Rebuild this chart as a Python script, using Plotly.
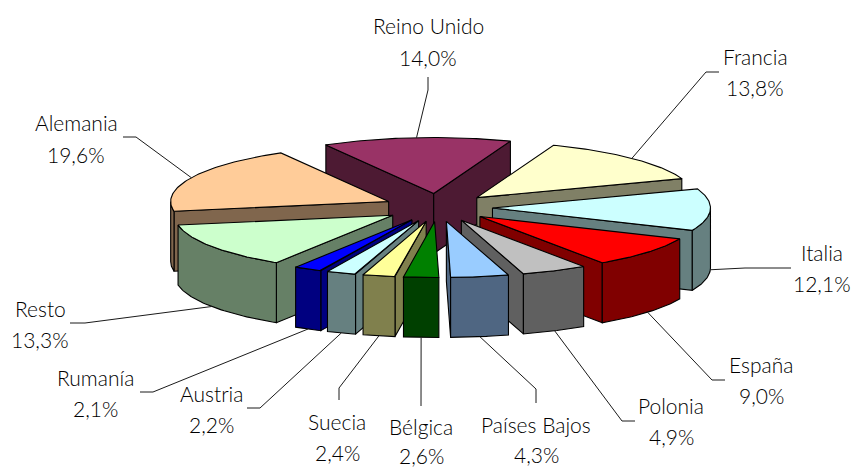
import numpy as np
import plotly.graph_objects as go

# Data, clockwise from the first slice
categories = ["Francia", "Italia", "España", "Polonia", "Países Bajos", "Bélgica",
              "Suecia", "Austria", "Rumanía", "Resto", "Alemania", "Reino Unido"]
shares = [13.8, 12.1, 9.0, 4.9, 4.3, 2.6, 2.4, 2.2, 2.1, 13.3, 19.6, 14.0]
pct_labels = ["13,8%", "12,1%", "9,0%", "4,9%", "4,3%", "2,6%",
              "2,4%", "2,2%", "2,1%", "13,3%", "19,6%", "14,0%"]

# Styles
top_colors = ["#FFFFCC", "#CCFFFF", "#FF0000", "#C0C0C0", "#99CCFF", "#008000",
              "#FFFF99", "#CCFFFF", "#0000FF", "#CCFFCC", "#FFCC99", "#993366"]
side_colors = ["#808066", "#668080", "#800000", "#606060", "#4F6682", "#004000",
               "#80804D", "#668080", "#000080", "#668066", "#80664D", "#4D1A33"]

# Projection of the tilted, exploded pie (page pixels)
CX, CY = 438, 207.5
RX, RY = 218, 56
DEPTH = 60
EXPLODE = 0.25
START_DEG = 20.6

# Label layout: name centre, percent centre, and leader waypoints from label to slice
label_x = [755, 822, 761, 671, 536, 421, 337, 211, 95, 40, 76, 428]
name_y = [56, 252, 364, 405, 424, 426, 421, 393, 377, 308, 122, 25]
pct_y = [87, 283, 395, 436, 454, 455, 452, 424, 408, 339, 154, 57]
leader_x = [[719, 706], [791, 745], [725, 712], [635, 622], [536, 536], [421],
            [339, 339], [247, 260], [140, 153], [70, 85], [123, 136], [428, 428]]
leader_y = [[72, 72], [268, 268], [380, 380], [421, 421], [403, 389], [406],
            [400, 388], [408, 408], [392, 392], [323, 323], [137, 137], [77, 90]]

FONT = "Lato"
FONT_SIZE = 21
FONT_WEIGHT = 300

total = sum(shares)
edges = START_DEG + np.concatenate([[0], np.cumsum(shares)]) / total * 360


def rim(theta_deg, ax, ay):
    t = np.radians(theta_deg)
    return ax + RX * np.sin(t), ay - RY * np.cos(t)


wedges = []
for i, name in enumerate(categories):
    a, b = edges[i], edges[i + 1]
    m = np.radians((a + b) / 2)
    ax = CX + EXPLODE * RX * np.sin(m)
    ay = CY - EXPLODE * RY * np.cos(m)
    wedges.append((ay, i, a, b, ax))

fig = go.Figure()


def poly(xs, ys, fill, name):
    fig.add_trace(go.Scatter(
        x=list(xs) + [xs[0]], y=list(ys) + [ys[0]], mode="lines", fill="toself",
        fillcolor=fill, line=dict(color="#000000", width=1.1), hoverinfo="skip",
        showlegend=False, name=name))


for ay, i, a, b, ax in sorted(wedges, key=lambda w: w[0]):
    name = categories[i]
    # Cut faces facing the viewer
    for theta, visible in ((a, np.sin(np.radians(a)) < 0), (b, np.sin(np.radians(b)) > 0)):
        if visible:
            rx, ry = rim(theta, ax, ay)
            poly([ax, rx, rx, ax], [ay, ry, ry + DEPTH, ay + DEPTH], side_colors[i], name)
    # Outer wall on the front half
    lo, hi = max(a, 90), min(b, 270)
    if lo < hi:
        th = np.linspace(lo, hi, 40)
        xs, ys = rim(th, ax, ay)
        poly(list(xs) + list(xs[::-1]), list(ys) + list(ys[::-1] + DEPTH), side_colors[i], name)
    # Top face
    th = np.linspace(a, b, 60)
    xs, ys = rim(th, ax, ay)
    poly([ax] + list(xs), [ay] + list(ys), top_colors[i], name)

# Leaders and labels
annotations = []
for ay, i, a, b, ax in wedges:
    mid = (a + b) / 2
    px, py = rim(mid, ax, ay)
    t = np.radians(mid)
    if np.cos(t) < 0:  # anchor on the lower rim of the wall
        py = py + DEPTH
    fig.add_trace(go.Scatter(
        x=leader_x[i] + [px], y=leader_y[i] + [py], mode="lines",
        line=dict(color="#1a1a1a", width=1), hoverinfo="skip", showlegend=False))
    for txt, y in ((categories[i], name_y[i]), (pct_labels[i], pct_y[i])):
        annotations.append(dict(
            x=label_x[i], y=y, xref="x", yref="y", text=txt, showarrow=False,
            xanchor="center", yanchor="middle",
            font=dict(family=FONT, size=FONT_SIZE, color="#000000", weight=FONT_WEIGHT)))

fig.update_layout(
    width=853, height=467, margin=dict(l=0, r=0, t=0, b=0),
    paper_bgcolor="#FFFFFF", plot_bgcolor="#FFFFFF", showlegend=False,
    xaxis=dict(range=[0, 853], visible=False, fixedrange=True),
    yaxis=dict(range=[467, 0], visible=False, fixedrange=True),
    annotations=annotations,
)
fig.write_html("out.html", config={"displayModeBar": False},
               post_script="document.body.style.margin='0';document.documentElement.style.overflow='hidden';")
